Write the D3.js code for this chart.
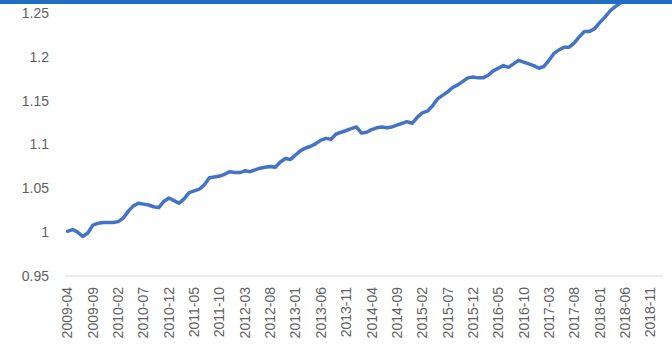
<!DOCTYPE html>
<html>
<head>
<meta charset="utf-8">
<script src="https://cdn.jsdelivr.net/npm/d3@7"></script>
<style>
  body { margin: 0; background: #fff; }
  svg { display: block; }
</style>
</head>
<body>
<svg width="672" height="354"></svg>
<script>
// monthly index, 2009-04 .. 2019-01 (last months run off the top of the crop, estimated)
var startYear = 2009, startMonth = 4;
var values = [
  1.001, 1.003, 1.000, 0.995, 0.999, 1.008, 1.010, 1.011, 1.011, 1.011,
  1.012, 1.016, 1.024, 1.030, 1.033, 1.032, 1.031, 1.029, 1.028, 1.035,
  1.039, 1.036, 1.033, 1.038, 1.045, 1.047, 1.049, 1.054, 1.062, 1.063,
  1.064, 1.066, 1.069, 1.068, 1.068, 1.070, 1.069, 1.071, 1.073, 1.074,
  1.075, 1.074, 1.080, 1.084, 1.083, 1.088, 1.093, 1.096, 1.098, 1.101,
  1.105, 1.107, 1.106, 1.112, 1.114, 1.116, 1.118, 1.120, 1.113, 1.114,
  1.117, 1.119, 1.120, 1.119, 1.120, 1.122, 1.124, 1.126, 1.124, 1.131,
  1.136, 1.138, 1.144, 1.152, 1.156, 1.160, 1.165, 1.168, 1.172, 1.176,
  1.177, 1.176, 1.176, 1.179, 1.184, 1.187, 1.190, 1.188, 1.192, 1.196,
  1.194, 1.192, 1.190, 1.187, 1.189, 1.196, 1.204, 1.208, 1.211, 1.211,
  1.216, 1.223, 1.229, 1.229, 1.232, 1.239, 1.245, 1.252, 1.257, 1.261,
  1.265, 1.268, 1.272, 1.275, 1.279, 1.283, 1.286, 1.290
];
var yTicks = [0.95, 1, 1.05, 1.1, 1.15, 1.2, 1.25];
var labelEvery = 5;

var months = values.map(function (v, i) {
  var m = startMonth - 1 + i;
  var y = startYear + Math.floor(m / 12);
  var mm = (m % 12) + 1;
  return y + "-" + (mm < 10 ? "0" + mm : mm);
});

var svg = d3.select("svg");

var x = d3.scaleBand().domain(months).range([65, 663]).padding(0);
var y = d3.scaleLinear().domain([0.95, 1.25]).range([276, 13]);

var font = "'Liberation Sans', Arial, sans-serif";

// y labels
svg.append("g").selectAll("text")
  .data(yTicks)
  .enter().append("text")
  .attr("x", 49)
  .attr("y", function (d) { return y(d); })
  .attr("dy", "0.35em")
  .attr("text-anchor", "end")
  .style("font-family", font)
  .style("font-size", "14px")
  .style("fill", "#5f5f5f")
  .text(function (d) { return d; });

// x axis line
svg.append("line")
  .attr("x1", x.range()[0]).attr("x2", x.range()[1])
  .attr("y1", y(0.95)).attr("y2", y(0.95))
  .style("stroke", "#d9d9d9").style("stroke-width", 1);

// x labels
svg.append("g").selectAll("text")
  .data(months.filter(function (d, i) { return i % labelEvery === 0; }))
  .enter().append("text")
  .attr("transform", function (d) {
    return "translate(" + (x(d) + x.bandwidth() / 2) + "," + 287 + ") rotate(-90)";
  })
  .attr("dy", "0.35em")
  .attr("text-anchor", "end")
  .style("font-family", font)
  .style("font-size", "14px")
  .style("fill", "#5f5f5f")
  .text(function (d) { return d; });

// the line
var line = d3.line()
  .x(function (d, i) { return x(months[i]) + x.bandwidth() / 2; })
  .y(function (d) { return y(d); });

svg.append("path")
  .datum(values)
  .attr("d", line)
  .style("fill", "none")
  .style("stroke", "#4472c4")
  .style("stroke-width", 3.5)
  .style("stroke-linejoin", "round")
  .style("stroke-linecap", "round");

// blue strip at the top of the crop
svg.append("rect")
  .attr("x", 0).attr("y", 0)
  .attr("width", 672).attr("height", 4)
  .style("fill", "#1f6fc5");
</script>
</body>
</html>
